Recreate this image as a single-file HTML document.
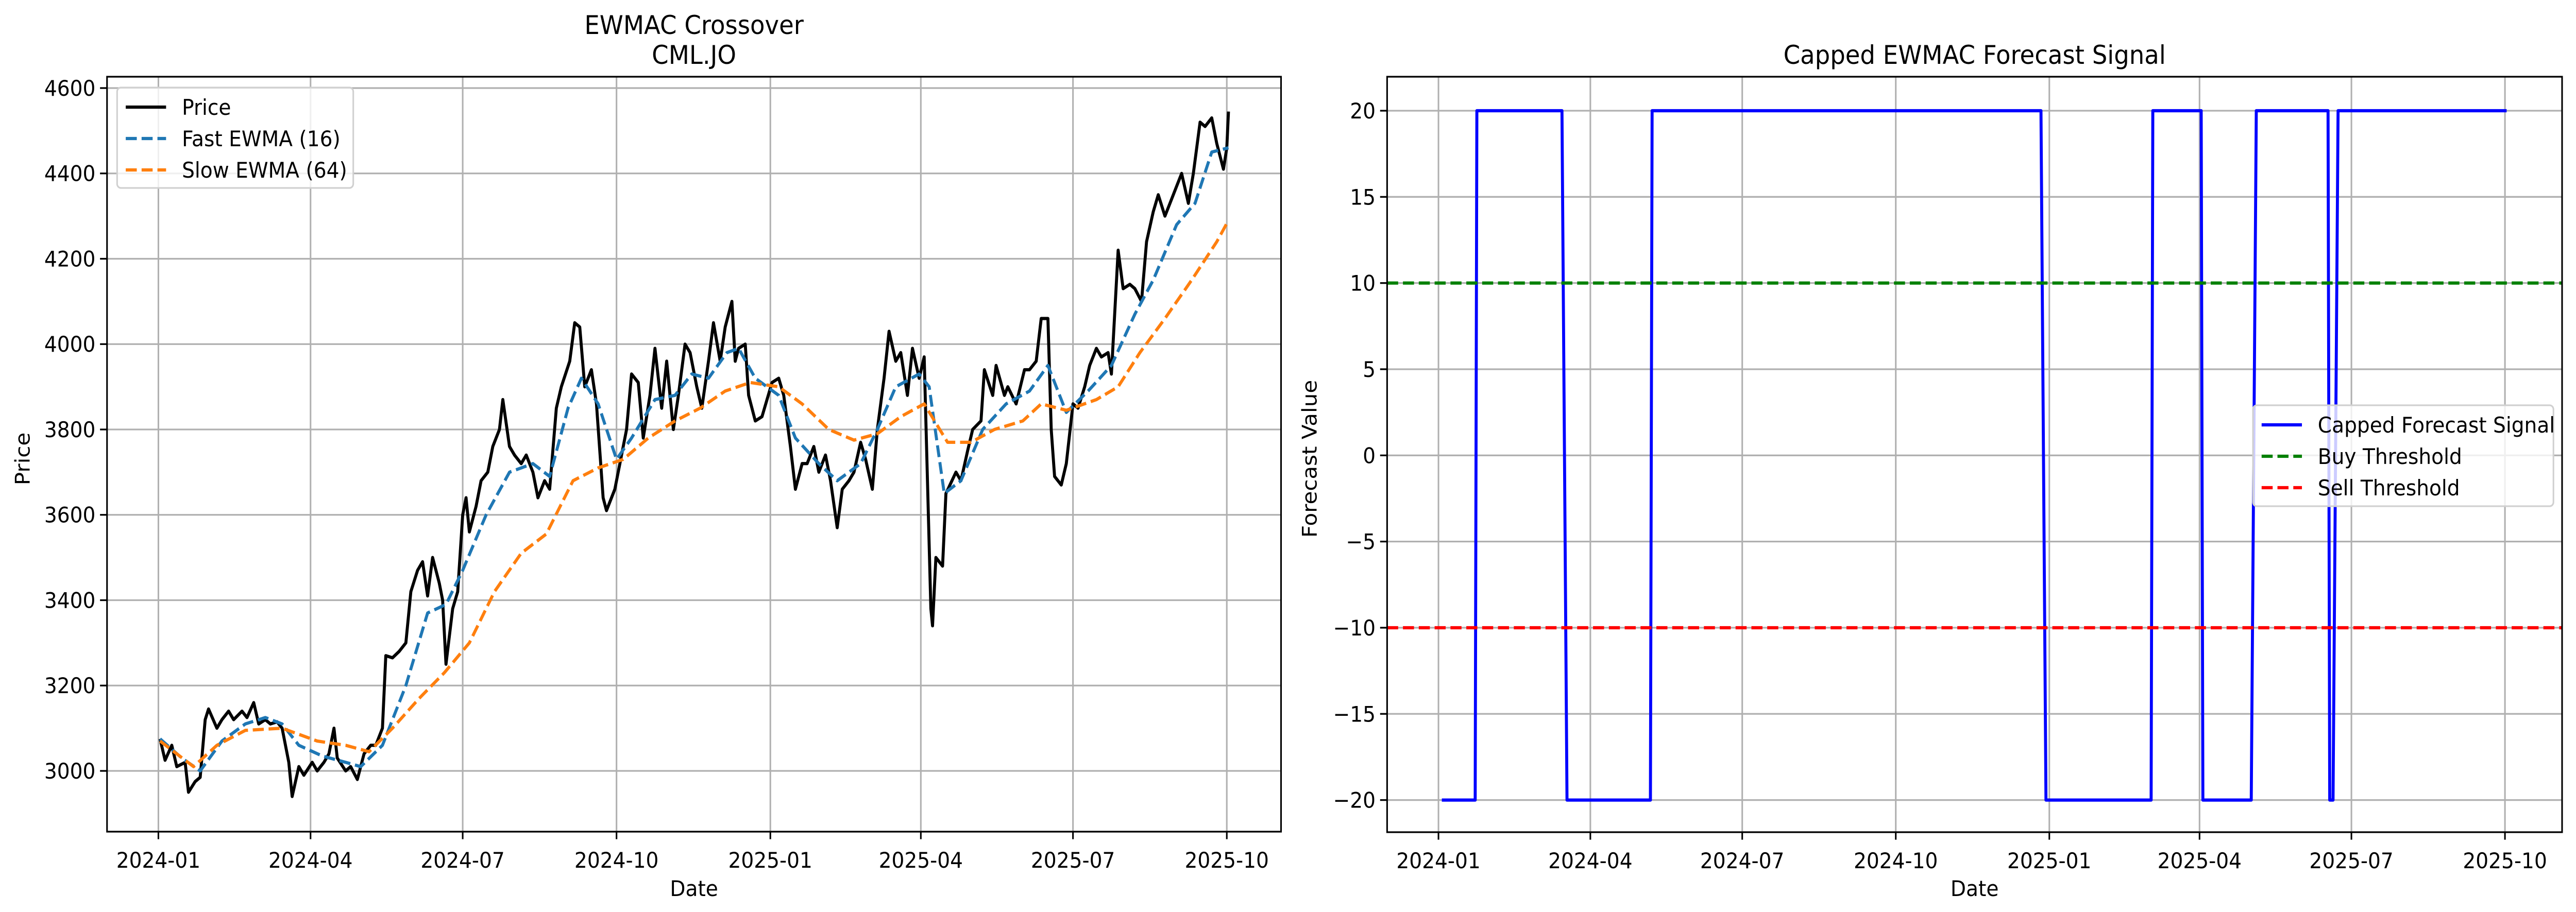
<!DOCTYPE html>
<html><head><meta charset="utf-8"><meta name="viewport" content="width=5367, initial-scale=1"><style>
html,body{margin:0;padding:0;background:#fff;width:100vw;height:100vh;overflow:hidden}
svg{display:block;width:100vw;height:100vh;font-family:"DejaVu Sans","Liberation Sans",sans-serif}
</style></head><body>
<svg id="fig" viewBox="0 0 5367 1771" preserveAspectRatio="none" xmlns="http://www.w3.org/2000/svg">
<rect width="5367" height="1771" fill="#fff"/>
<g id="left"></g>
<g id="right"></g>
</svg>
<script>
const priceDates=["2024-01-02","2024-01-05","2024-01-09","2024-01-12","2024-01-17","2024-01-19","2024-01-23","2024-01-26","2024-01-29","2024-01-31","2024-02-05","2024-02-08","2024-02-12","2024-02-15","2024-02-20","2024-02-23","2024-02-27","2024-03-01","2024-03-05","2024-03-08","2024-03-12","2024-03-15","2024-03-19","2024-03-21","2024-03-25","2024-03-28","2024-04-02","2024-04-05","2024-04-09","2024-04-12","2024-04-15","2024-04-17","2024-04-22","2024-04-25","2024-04-29","2024-05-03","2024-05-07","2024-05-10","2024-05-14","2024-05-16","2024-05-20","2024-05-24","2024-05-28","2024-05-31","2024-06-04","2024-06-07","2024-06-10","2024-06-13","2024-06-17","2024-06-19","2024-06-21","2024-06-25","2024-06-28","2024-07-01","2024-07-03","2024-07-05","2024-07-09","2024-07-12","2024-07-16","2024-07-19","2024-07-23","2024-07-25","2024-07-29","2024-08-01","2024-08-05","2024-08-08","2024-08-12","2024-08-15","2024-08-19","2024-08-22","2024-08-26","2024-08-29","2024-09-03","2024-09-06","2024-09-09","2024-09-12","2024-09-16","2024-09-19","2024-09-23","2024-09-25","2024-09-30","2024-10-03","2024-10-07","2024-10-10","2024-10-14","2024-10-17","2024-10-21","2024-10-24","2024-10-28","2024-10-31","2024-11-04","2024-11-07","2024-11-11","2024-11-14","2024-11-18","2024-11-21","2024-11-25","2024-11-28","2024-12-02","2024-12-05","2024-12-09","2024-12-11","2024-12-13","2024-12-17","2024-12-19","2024-12-23","2024-12-27","2025-01-02","2025-01-06","2025-01-09","2025-01-13","2025-01-16","2025-01-20","2025-01-23","2025-01-27","2025-01-30","2025-02-03","2025-02-06","2025-02-10","2025-02-13","2025-02-17","2025-02-20","2025-02-24","2025-02-27","2025-03-03","2025-03-06","2025-03-10","2025-03-13","2025-03-17","2025-03-20","2025-03-24","2025-03-27","2025-03-31","2025-04-03","2025-04-07","2025-04-08","2025-04-10","2025-04-14","2025-04-16","2025-04-22","2025-04-25","2025-04-29","2025-05-02","2025-05-07","2025-05-09","2025-05-14","2025-05-16","2025-05-21","2025-05-23","2025-05-28","2025-06-02","2025-06-05","2025-06-09","2025-06-12","2025-06-16","2025-06-18","2025-06-20","2025-06-24","2025-06-27","2025-07-01","2025-07-04","2025-07-08","2025-07-11","2025-07-15","2025-07-18","2025-07-22","2025-07-24","2025-07-28","2025-07-31","2025-08-04","2025-08-07","2025-08-11","2025-08-14","2025-08-18","2025-08-21","2025-08-25","2025-08-28","2025-09-01","2025-09-04","2025-09-08","2025-09-11","2025-09-15","2025-09-18","2025-09-22","2025-09-25","2025-09-29","2025-10-01","2025-10-02"];
const priceValues=[3075,3025,3060,3010,3020,2950,2975,2985,3120,3145,3100,3120,3140,3120,3140,3125,3160,3110,3120,3110,3115,3100,3020,2940,3010,2990,3020,3000,3020,3040,3100,3030,3000,3010,2980,3040,3060,3060,3100,3270,3265,3280,3300,3420,3470,3490,3410,3500,3440,3400,3250,3380,3420,3600,3640,3560,3620,3680,3700,3760,3800,3870,3760,3740,3720,3740,3700,3640,3680,3660,3850,3900,3960,4050,4040,3900,3940,3860,3640,3610,3660,3720,3800,3930,3910,3780,3880,3990,3850,3960,3800,3880,4000,3980,3900,3850,3960,4050,3960,4040,4100,3960,3990,4000,3880,3820,3830,3910,3920,3880,3760,3660,3720,3720,3760,3700,3740,3680,3570,3660,3680,3700,3770,3730,3660,3800,3920,4030,3960,3980,3880,3990,3920,3970,3380,3340,3500,3480,3650,3700,3680,3750,3800,3820,3940,3880,3950,3880,3900,3860,3940,3940,3960,4060,4060,3800,3690,3670,3720,3860,3850,3900,3950,3990,3970,3980,3930,4220,4130,4140,4130,4100,4240,4310,4350,4300,4330,4370,4400,4330,4400,4520,4510,4530,4470,4410,4460,4545];
const fastDates=["2024-01-02","2024-01-15","2024-01-26","2024-02-08","2024-02-22","2024-03-05","2024-03-15","2024-03-25","2024-04-08","2024-04-22","2024-05-01","2024-05-14","2024-05-28","2024-06-10","2024-06-21","2024-07-01","2024-07-15","2024-07-29","2024-08-12","2024-08-22","2024-09-02","2024-09-10","2024-09-20","2024-10-01","2024-10-10","2024-10-24","2024-11-05","2024-11-15","2024-11-25","2024-12-06","2024-12-13","2024-12-23","2025-01-06","2025-01-16","2025-01-30","2025-02-10","2025-02-24","2025-03-06","2025-03-17","2025-03-31","2025-04-06","2025-04-15","2025-04-25","2025-05-08","2025-05-22","2025-06-05","2025-06-16","2025-06-27","2025-07-10","2025-07-24","2025-08-07","2025-08-18","2025-09-01","2025-09-12","2025-09-22","2025-10-02"];
const fastValues=[3075,3030,3000,3070,3110,3125,3110,3060,3035,3020,3010,3060,3200,3370,3390,3470,3600,3700,3720,3690,3850,3920,3860,3730,3780,3870,3880,3930,3920,3980,3990,3920,3880,3780,3720,3680,3720,3800,3900,3930,3900,3650,3680,3800,3860,3890,3950,3840,3890,3950,4070,4150,4280,4330,4450,4460];
const slowDates=["2024-01-02","2024-01-22","2024-02-05","2024-02-22","2024-03-15","2024-04-05","2024-04-22","2024-05-06","2024-05-20","2024-06-05","2024-06-20","2024-07-05","2024-07-20","2024-08-05","2024-08-20","2024-09-05","2024-09-20","2024-10-05","2024-10-20","2024-11-05","2024-11-20","2024-12-05","2024-12-20","2025-01-06","2025-01-20","2025-02-05","2025-02-20","2025-03-06","2025-03-20","2025-04-03","2025-04-17","2025-05-01","2025-05-15","2025-06-01","2025-06-12","2025-06-27","2025-07-15","2025-07-28","2025-08-10","2025-08-25","2025-09-10","2025-09-25","2025-10-02"];
const slowValues=[3070,3010,3060,3095,3100,3070,3060,3045,3100,3170,3230,3300,3420,3510,3555,3680,3710,3730,3780,3820,3850,3890,3910,3900,3860,3800,3775,3790,3830,3860,3770,3770,3800,3820,3860,3845,3870,3900,3980,4060,4150,4240,4290];
const leftYTicks=[3000,3200,3400,3600,3800,4000,4200,4400,4600];
const xTickLabels=["2024-01","2024-04","2024-07","2024-10","2025-01","2025-04","2025-07","2025-10"];
const sigDates=["2024-01-03","2024-01-23","2024-01-24","2024-03-15","2024-03-18","2024-05-07","2024-05-08","2024-12-27","2024-12-30","2025-03-03","2025-03-04","2025-04-02","2025-04-03","2025-05-02","2025-05-05","2025-06-17","2025-06-18","2025-06-20","2025-06-23","2025-10-02"];
const sigValues=[-20,-20,20,20,-20,-20,20,20,-20,-20,20,20,-20,-20,20,20,-20,-20,20,20];
const rightYTicks=[-20,-15,-10,-5,0,5,10,15,20];
const buyThreshold=10, sellThreshold=-10;

const NS="http://www.w3.org/2000/svg";
function el(parent,tag,attrs){const e=document.createElementNS(NS,tag);for(const k in attrs)e.setAttribute(k,attrs[k]);parent.appendChild(e);return e;}
function dnum(s){return Date.parse(s+"T00:00:00Z")/86400000;}
const D0=dnum("2024-01-01"),D1=dnum("2025-10-01");
function mkX(x0,x1){return d=>x0+(dnum(d)-D0)/(D1-D0)*(x1-x0);}
function tickLbl(s){return s<0?"\u2212"+Math.abs(s):String(s);}

function axes(g,L,T,R,B,xs,ys,yTicks){
  xTickLabels.forEach(t=>{const x=xs(t+"-01");
    const gl=el(g,"line",{x1:x,x2:x,y1:T,y2:B,stroke:"#b0b0b0","stroke-width":3.3});
    
    
    const tk=el(g,"line",{x1:x,x2:x,y1:B,y2:B+14.6,stroke:"#000","stroke-width":3.3});
    
    
    const tx=el(g,"text",{x:x,y:B+70,"font-size":42,"text-anchor":"middle",fill:"#000"});tx.textContent=t;
    
    
  });
  yTicks.forEach(v=>{const y=ys(v);
    const gl=el(g,"line",{x1:L,x2:R,y1:y,y2:y,stroke:"#b0b0b0","stroke-width":3.3});
    
    
    const tk=el(g,"line",{x1:L-14.6,x2:L,y1:y,y2:y,stroke:"#000","stroke-width":3.3});
    
    
    const tx=el(g,"text",{x:L-24,y:y+15,"font-size":42,"text-anchor":"end",fill:"#000"});tx.textContent=tickLbl(v);
    
    
  });
}
function frame(g,L,T,R,B){const f=el(g,"rect",{x:L,y:T,width:R-L,height:B-T,fill:"none",stroke:"#000","stroke-width":3.3});
  
  }
function line(g,dates,vals,xs,ys,color,dash,name){
  const p=dates.map((d,i)=>xs(d).toFixed(1)+","+ys(vals[i]).toFixed(1)).join(" ");
  const a={points:p,fill:"none",stroke:color,"stroke-width":6.25,"stroke-linejoin":"round"};
  if(dash)a["stroke-dasharray"]=dash;
  const e=el(g,"polyline",a);
  
  
}
function text(g,x,y,s,size,anchor,name,rot){const a={x:x,y:y,"font-size":size,"text-anchor":anchor,fill:"#000"};
  if(rot)a.transform="rotate(-90 "+x+" "+y+")";
  const t=el(g,"text",a);t.textContent=s;
  
  }
function legend(g,x,y,w,h,items){
  const lg=el(g,"g",{});
  
  
  el(lg,"rect",{x:x,y:y,width:w,height:h,rx:8,fill:"#fff","fill-opacity":0.8,stroke:"#d0d0d0","stroke-width":3.3});
  items.forEach((it,i)=>{const cy=y+38+i*61;
    const en=el(lg,"g",{});
    
    
    const a={x1:x+18,x2:x+102,y1:cy,y2:cy,stroke:it.c,"stroke-width":6.25};if(it.d)a["stroke-dasharray"]=it.d;
    el(en,"line",a);
    const t=el(en,"text",{x:x+135,y:cy+15,"font-size":42,fill:"#000"});t.textContent=it.n;});
}

(function(){
  const g=document.getElementById("left");
  const L=223,T=149,R=2669,B=1615;
  const xs=mkX(330,2556);
  const ys=v=>171+(4600-v)*(1497-171)/1600;
  axes(g,L,T,R,B,xs,ys,leftYTicks);
  const cg=el(g,"g",{});
  const cp=el(g,"clipPath",{id:"cl"});el(cp,"rect",{x:L,y:T,width:R-L,height:B-T});
  cg.setAttribute("clip-path","url(#cl)");
  line(cg,priceDates,priceValues,xs,ys,"#000",null,"price-line");
  line(cg,fastDates,fastValues,xs,ys,"#1f77b4","23 10","fast-ewma-line");
  line(cg,slowDates,slowValues,xs,ys,"#ff7f0e","23 10","slow-ewma-line");
  frame(g,L,T,R,B);
  text(g,1446,66,"EWMAC Crossover",50,"middle","chart-title");
  text(g,1446,124,"CML.JO",50,"middle","chart-subtitle");
  text(g,1446,1740,"Date",42,"middle","x-axis-title");
  text(g,62,891,"Price",42,"middle","y-axis-title",true);
  legend(g,244,170,492,195,[{n:"Price",c:"#000"},{n:"Fast EWMA (16)",c:"#1f77b4",d:"23 10"},{n:"Slow EWMA (64)",c:"#ff7f0e",d:"23 10"}]);
})();
(function(){
  const g=document.getElementById("right");
  const L=2890,T=149,R=5338,B=1616;
  const xs=mkX(2997,5219);
  const ys=v=>215+(20-v)*(1553.6-215)/40;
  axes(g,L,T,R,B,xs,ys,rightYTicks);
  line(g,sigDates,sigValues,xs,ys,"#0000ff",null,"forecast-signal-line");
  const b=el(g,"line",{x1:L,x2:R,y1:ys(buyThreshold),y2:ys(buyThreshold),stroke:"#008000","stroke-width":6.25,"stroke-dasharray":"23 10"});
  
  
  const s=el(g,"line",{x1:L,x2:R,y1:ys(sellThreshold),y2:ys(sellThreshold),stroke:"#ff0000","stroke-width":6.25,"stroke-dasharray":"23 10"});
  
  
  frame(g,L,T,R,B);
  text(g,4114,124,"Capped EWMAC Forecast Signal",50,"middle","chart-title");
  text(g,4114,1740,"Date",42,"middle","x-axis-title");
  text(g,2743,891,"Forecast Value",42,"middle","y-axis-title",true);
  legend(g,4694,787,626,196,[{n:"Capped Forecast Signal",c:"#0000ff"},{n:"Buy Threshold",c:"#008000",d:"23 10"},{n:"Sell Threshold",c:"#ff0000",d:"23 10"}]);
})();
</script>
</body></html>
